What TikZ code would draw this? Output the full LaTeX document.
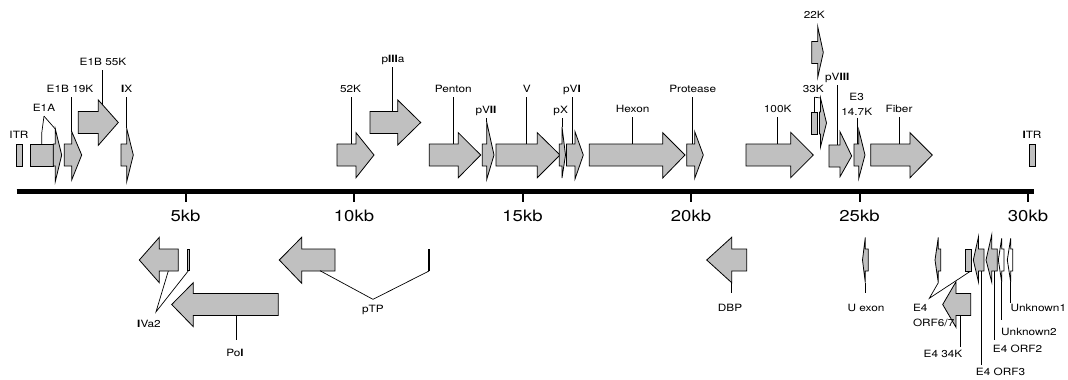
\documentclass[tikz,border=0pt]{standalone}
\usepackage{fontspec}
\setmainfont{TeX Gyre Heros}[FakeStretch=1.18]
\usepackage{xcolor}
\usepackage{tikz}
\definecolor{genegray}{RGB}{192,192,192}
\tikzset{
  genebox/.style={draw=black, fill=genegray, line width=0.8pt, line join=miter},
  blankgene/.style={fill=white},
  tagline/.style={draw=black, line width=0.7pt},
  tagtext/.style={inner sep=1pt, outer sep=1.5pt, font=\fontsize{10}{15}\selectfont},
  toplabel/.style={tagtext, text height=7.3pt, text depth=2pt},
  botlabel/.style={toplabel, outer sep=4pt},
  kblabel/.style={inner sep=0pt, font=\fontsize{15.7}{18}\selectfont},
  genomeaxis/.style={line width=5pt},
  kbtick/.style={line width=2pt},
}
% gene arrow: body start, head base, tip, centre y, head top y, head bottom y
\newcommand{\genearrow}[7][]{%
  \draw[genebox,#1] (#2,#5-11) -- (#3,#5-11) -- (#3,#6) -- (#4,#5)
    -- (#3,#7) -- (#3,#5+11) -- (#2,#5+11) -- cycle;}
\newcommand{\exonbox}[4]{\draw[genebox] (#1,#2) rectangle (#3,#4);}

\begin{document}
\begin{tikzpicture}[x=1pt,y=-1pt]
  \useasboundingbox (0,0) rectangle (1068,380);

  % Genome axis and kb scale
  \draw[genomeaxis] (16.7,191.5) -- (1034,191.5);
  \foreach \k in {5,10,...,30} {
    \draw[kbtick] ({17+33.7*\k},194) -- ++(0,8);
    \node[kblabel] (kb\k) at ({17+33.7*\k},215.5) {\k kb};
  }

  % Top strand, left end
  \exonbox{16}{144.3}{22.3}{166.3}
  \exonbox{30.5}{144.3}{53.3}{166.3}
  \genearrow{53.3}{55.3}{61.7}{155}{129}{181.5}
  \genearrow{64.3}{71.7}{81.7}{155}{131.5}{180}
  \genearrow{78.3}{98.3}{118.3}{122.5}{100}{145.3}
  \genearrow{121}{126.7}{133.3}{155}{128.3}{181.7}

  % Top strand, late genes
  \genearrow{337}{356}{374}{155}{132.7}{177.7}
  \genearrow{370}{397.7}{420.7}{122.5}{100}{145}
  \genearrow{429.3}{458.3}{480.7}{155}{132.7}{177.7}
  \genearrow{482.3}{486.7}{494}{155}{122}{179.5}
  \genearrow{496}{537.3}{560}{155}{132.7}{177.7}
  \genearrow{559.3}{562}{565.5}{155}{127}{178}
  \genearrow{566.5}{575}{583.3}{155}{131.7}{179}
  \genearrow{589.3}{662.7}{685}{155}{132.7}{178}
  \genearrow{686.7}{694.7}{703.3}{155}{131.7}{178.3}
  \genearrow{746}{790.7}{813.3}{155}{132.3}{177.7}
  \genearrow{811.7}{817.8}{823.3}{52.5}{27}{77}
  \exonbox{811.7}{112}{817.3}{134}
  \genearrow{819.5}{820.5}{826.5}{123}{98}{147}
  \genearrow{829}{840}{851.7}{156}{131.7}{176.7}
  \genearrow{854}{858.8}{865}{155}{130}{178.3}
  \genearrow{870.7}{910}{932.3}{155}{132.7}{177.7}
  \exonbox{1029.3}{144.3}{1035.3}{166.3}

  % Bottom strand
  \genearrow{178.3}{159.3}{139.3}{260}{237.3}{282.7}
  \exonbox{187.5}{249.3}{189.3}{270.7}
  \genearrow{278.3}{193.3}{171.7}{304.5}{282.7}{326.7}
  \genearrow{335}{301.7}{279.3}{260}{237.3}{283.3}
  \exonbox{428.3}{249.3}{429.7}{270.7}
  \genearrow{746.7}{731.7}{706.7}{260}{237.3}{282.7}
  \genearrow{868.3}{865.3}{862.5}{260}{237.3}{282.7}
  \genearrow{940.7}{938.3}{935}{260}{237.3}{282.7}
  \exonbox{965.3}{249.3}{971.7}{271}
  \genearrow{970.7}{956}{942.7}{304.5}{281.7}{327.3}
  \genearrow{984}{978.5}{973.3}{260}{236.7}{282}
  \genearrow{997.3}{991.7}{986}{260}{235}{282}
  \genearrow[blankgene]{1004}{1001.7}{998.3}{260}{238.3}{282}
  \genearrow[blankgene]{1012.7}{1010.7}{1007.3}{260}{238.3}{282}

  % Anchor points on the genes
  \coordinate (e1arect) at (41.7,144.3);
  \coordinate (e1ahead) at (55.3,129);
  \coordinate (e1b19) at (71.7,131.5);
  \coordinate (e1b55) at (102.7,105);
  \coordinate (ix) at (126.7,128.3);
  \coordinate (k52) at (351.7,144);
  \coordinate (piiia) at (392.7,111.5);
  \coordinate (penton) at (453.3,144);
  \coordinate (pvii) at (486.7,122);
  \coordinate (vgene) at (526.7,144);
  \coordinate (px) at (562,127);
  \coordinate (pvi) at (572.7,144);
  \coordinate (hexon) at (632.7,144);
  \coordinate (protease) at (692.7,144);
  \coordinate (k100) at (777.7,144);
  \coordinate (k33rect) at (814.5,112);
  \coordinate (k33head) at (820.5,98);
  \coordinate (pviii) at (837.7,145);
  \coordinate (e3) at (857.3,144);
  \coordinate (fiber) at (899,144);
  \coordinate (ivabody) at (168.3,271);
  \coordinate (ivaexon) at (188.4,270.7);
  \coordinate (polbody) at (236,315.5);
  \coordinate (ptpbody) at (320,270.7);
  \coordinate (ptpexon) at (429,271);
  \coordinate (dbpbody) at (731.7,282.7);
  \coordinate (uexbody) at (865.3,282.7);
  \coordinate (orf67a) at (938.3,282.7);
  \coordinate (orf67b) at (970,271.5);
  \coordinate (orf67tip) at (929.3,298.3);
  \coordinate (k34body) at (960,315.5);
  \coordinate (orf3b) at (981,271);
  \coordinate (orf2b) at (994,271);
  \coordinate (unk2b) at (1001.7,282);
  \coordinate (unk1b) at (1010.7,282);

  % Labels above the genome
  \node[toplabel] (litrl) at (19,136) {ITR};
  \node[toplabel] (le1a) at (44,109) {E1A};
  \node[toplabel] (le1b19) at (70,90) {E1B 19K};
  \node[toplabel] (le1b55) at (103,63) {E1B 55K};
  \node[toplabel] (lix) at (126.7,90) {{\bfseries I}X};
  \node[toplabel] (l52k) at (350.5,90) {52K};
  \node[toplabel] (lpiiia) at (393,60) {p{\bfseries III}a};
  \node[toplabel] (lpenton) at (453.3,90) {Penton};
  \node[toplabel] (lpvii) at (486,111) {pV{\bfseries II}};
  \node[toplabel] (lv) at (526.7,90) {V};
  \node[toplabel] (lpx) at (560.7,111) {pX};
  \node[toplabel] (lpvi) at (572,90) {pV{\bfseries I}};
  \node[toplabel] (lhexon) at (632.7,110) {Hexon};
  \node[toplabel] (lprotease) at (692.7,90) {Protease};
  \node[toplabel] (l100k) at (777.7,110) {100K};
  \node[toplabel] (l22k) at (814.3,16) {22K};
  \node[toplabel] (l33k) at (813.3,90) {33K};
  \node[toplabel] (lpviii) at (837.3,78) {pV{\bfseries III}};
  \node[tagtext, align=center] (le3) at (856.7,104.2) {E3\\14.7K};
  \node[toplabel] (lfiber) at (899,110) {Fiber};
  \node[toplabel] (litrr) at (1032,136) {{\bfseries I}TR};

  % Labels below the genome
  \node[botlabel, outer sep=7.5pt] (livatwo) at (149,325) {{\bfseries I}Va2};
  \node[botlabel, outer sep=8.6pt] (lpol) at (235,354.3) {Po{\bfseries l}};
  \node[botlabel, outer sep=5.3pt] (lptp) at (373,310.3) {pTP};
  \node[botlabel, outer sep=10.3pt] (ldbp) at (730,309.3) {DBP};
  \node[botlabel, outer sep=10.3pt] (luex) at (866,309.3) {U exon};
  \node[tagtext, align=left, anchor=north west, outer sep=0pt] (le4orf67) at (912,303.7) {E4\\ORF6/7};
  \node[botlabel, outer sep=2.6pt] (l34k) at (943,355) {E4 34K};
  \node[botlabel, outer sep=2pt] (lorf3) at (1000.5,372.7) {E4 ORF3};
  \node[botlabel, outer sep=4.6pt] (lorf2) at (1017.5,350.3) {E4 ORF2};
  \node[botlabel, outer sep=7pt] (lunk2) at (1029,332.7) {Unknown2};
  \node[botlabel, outer sep=0.3pt] (lunk1) at (1038.3,309.3) {Unknown1};

  % Label lines, top
  \draw[tagline] (le1a.south) -- (41.7,133.3) -- (e1arect);
  \draw[tagline] (le1a.south) -- (e1ahead);
  \draw[tagline] (e1b19 |- le1b19.south) -- (e1b19);
  \draw[tagline] (e1b55 |- le1b55.south) -- (e1b55);
  \draw[tagline] (ix |- lix.south) -- (ix);
  \draw[tagline] (k52 |- l52k.south) -- (k52);
  \draw[tagline] (piiia |- lpiiia.south) -- (piiia);
  \draw[tagline] (penton |- lpenton.south) -- (penton);
  \draw[tagline] (pvii |- lpvii.south) -- (pvii);
  \draw[tagline] (vgene |- lv.south) -- (vgene);
  \draw[tagline] (px |- lpx.south) -- (px);
  \draw[tagline] (pvi |- lpvi.south) -- (pvi);
  \draw[tagline] (hexon |- lhexon.south) -- (hexon);
  \draw[tagline] (protease |- lprotease.south) -- (protease);
  \draw[tagline] (k100 |- l100k.south) -- (k100);
  \draw[tagline] (k33rect |- l33k.south) -- (k33rect);
  \draw[tagline] (k33rect |- l33k.south) -- (k33head);
  \draw[tagline] (pviii |- lpviii.south) -- (pviii);
  \draw[tagline] (e3 |- le3.south) -- (e3);
  \draw[tagline] (fiber |- lfiber.south) -- (fiber);

  % Label lines, bottom
  \draw[tagline] (ivabody) -- ([xshift=7pt]livatwo.north) -- (ivaexon);
  \draw[tagline] (polbody) -- (polbody |- lpol.north);
  \draw[tagline] (ptpbody) -- (lptp.north) -- (ptpexon);
  \draw[tagline] (dbpbody) -- (dbpbody |- ldbp.north);
  \draw[tagline] (uexbody) -- (uexbody |- luex.north);
  \draw[tagline] (orf67a) -- (orf67tip) -- (orf67b);
  \draw[tagline] (k34body) -- (k34body |- l34k.north);
  \draw[tagline] (orf3b) -- (orf3b |- lorf3.north);
  \draw[tagline] (orf2b) -- (orf2b |- lorf2.north);
  \draw[tagline] (unk2b) -- (unk2b |- lunk2.north);
  \draw[tagline] (unk1b) -- (unk1b |- lunk1.north);

\end{tikzpicture}
\end{document}
